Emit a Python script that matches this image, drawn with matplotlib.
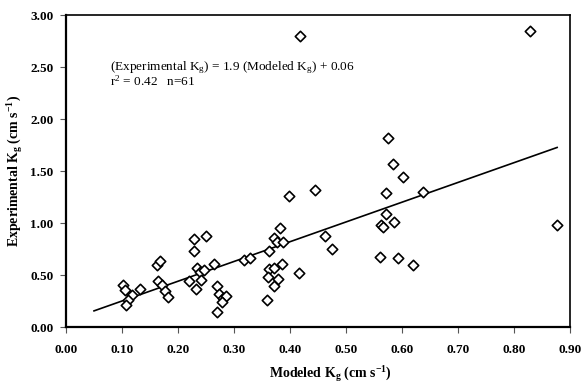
import matplotlib
matplotlib.use("Agg")
import matplotlib.pyplot as plt
from matplotlib.ticker import FormatStrFormatter

# Data
modeled_kg = [0.1025, 0.106, 0.117, 0.111, 0.108, 0.133,
              0.162, 0.168, 0.165, 0.172, 0.177, 0.183,
              0.219, 0.228, 0.228, 0.250, 0.234, 0.240, 0.246, 0.241, 0.233,
              0.264, 0.270, 0.274, 0.280, 0.286, 0.279, 0.270,
              0.317, 0.328,
              0.383, 0.371, 0.377, 0.387, 0.363, 0.386, 0.363, 0.372, 0.361,
              0.378, 0.372, 0.359, 0.416, 0.398, 0.444, 0.463, 0.475, 0.417,
              0.575, 0.584, 0.602, 0.572, 0.638, 0.571, 0.563, 0.566, 0.586,
              0.560, 0.592, 0.620, 0.877, 0.829]
experimental_kg = [0.40, 0.36, 0.31, 0.26, 0.21, 0.37,
                   0.60, 0.63, 0.44, 0.40, 0.35, 0.29,
                   0.44, 0.85, 0.73, 0.875, 0.57, 0.53, 0.55, 0.45, 0.37,
                   0.61, 0.39, 0.32, 0.275, 0.30, 0.24, 0.14,
                   0.64, 0.66,
                   0.95, 0.86, 0.82, 0.82, 0.73, 0.61, 0.56, 0.57, 0.48,
                   0.46, 0.39, 0.26, 0.52, 1.26, 1.32, 0.875, 0.75, 2.80,
                   1.82, 1.57, 1.445, 1.29, 1.30, 1.09, 0.98, 0.96, 1.01,
                   0.675, 0.665, 0.60, 0.98, 2.85]
fit_slope = 1.9
fit_intercept = 0.06
fit_x = [0.05, 0.877]
x_ticks = [0.0, 0.1, 0.2, 0.3, 0.4, 0.5, 0.6, 0.7, 0.8, 0.9]
y_ticks = [0.0, 0.5, 1.0, 1.5, 2.0, 2.5, 3.0]

plt.rcParams['font.family'] = ['Liberation Serif', 'DejaVu Serif']
plt.rcParams['mathtext.fontset'] = 'custom'
plt.rcParams['mathtext.rm'] = 'Liberation Serif'
plt.rcParams['mathtext.it'] = 'Liberation Serif:italic'
plt.rcParams['mathtext.bf'] = 'Liberation Serif:bold'

fig = plt.figure(figsize=(5.82, 3.84), dpi=100)
ax = fig.add_axes([66/582, 57/384, 504/582, 312/384])

ax.scatter(modeled_kg, experimental_kg, marker='D', s=28, facecolors='white',
           edgecolors='black', linewidths=1.2, zorder=3)
fit_y = [fit_slope * x + fit_intercept for x in fit_x]
ax.plot(fit_x, fit_y, color='black', linewidth=1.2, zorder=2)

ax.set_xlim(0, 0.9)
ax.set_ylim(0, 3.0)
ax.set_xticks(x_ticks)
ax.set_yticks(y_ticks)
ax.xaxis.set_major_formatter(FormatStrFormatter('%.2f'))
ax.yaxis.set_major_formatter(FormatStrFormatter('%.2f'))
ax.tick_params(axis='both', direction='out', length=4, width=0.8, color='#555555',
               labelsize=9.5)
ax.tick_params(axis='x', pad=8)
ax.tick_params(axis='y', pad=5)
for lab in ax.get_xticklabels() + ax.get_yticklabels():
    lab.set_fontweight('bold')

for side in ['left', 'bottom']:
    ax.spines[side].set_linewidth(1.6)
for side in ['top', 'right']:
    ax.spines[side].set_linewidth(1.2)

ax.set_xlabel(r'Modeled K$_\mathregular{g}$ (cm s$^\mathregular{-1}$)',
              fontsize=10, fontweight='bold')
ax.xaxis.set_label_coords(0.524, -0.12)
ax.set_ylabel(r'Experimental K$_\mathregular{g}$ (cm s$^\mathregular{-1}$)',
              fontsize=10, fontweight='bold')
ax.yaxis.set_label_coords(-0.082, 0.5)

ax.text(110/582, (384-70)/384,
        r'(Experimental K$_\mathregular{g}$) = 1.9 (Modeled K$_\mathregular{g}$) + 0.06',
        transform=fig.transFigure, fontsize=9.5, va='baseline', ha='left')
ax.text(110/582, (384-86)/384, r'r$^\mathregular{2}$ = 0.42   n=61',
        transform=fig.transFigure, fontsize=9.5, va='baseline', ha='left')

fig.savefig('out.png', dpi=100)
